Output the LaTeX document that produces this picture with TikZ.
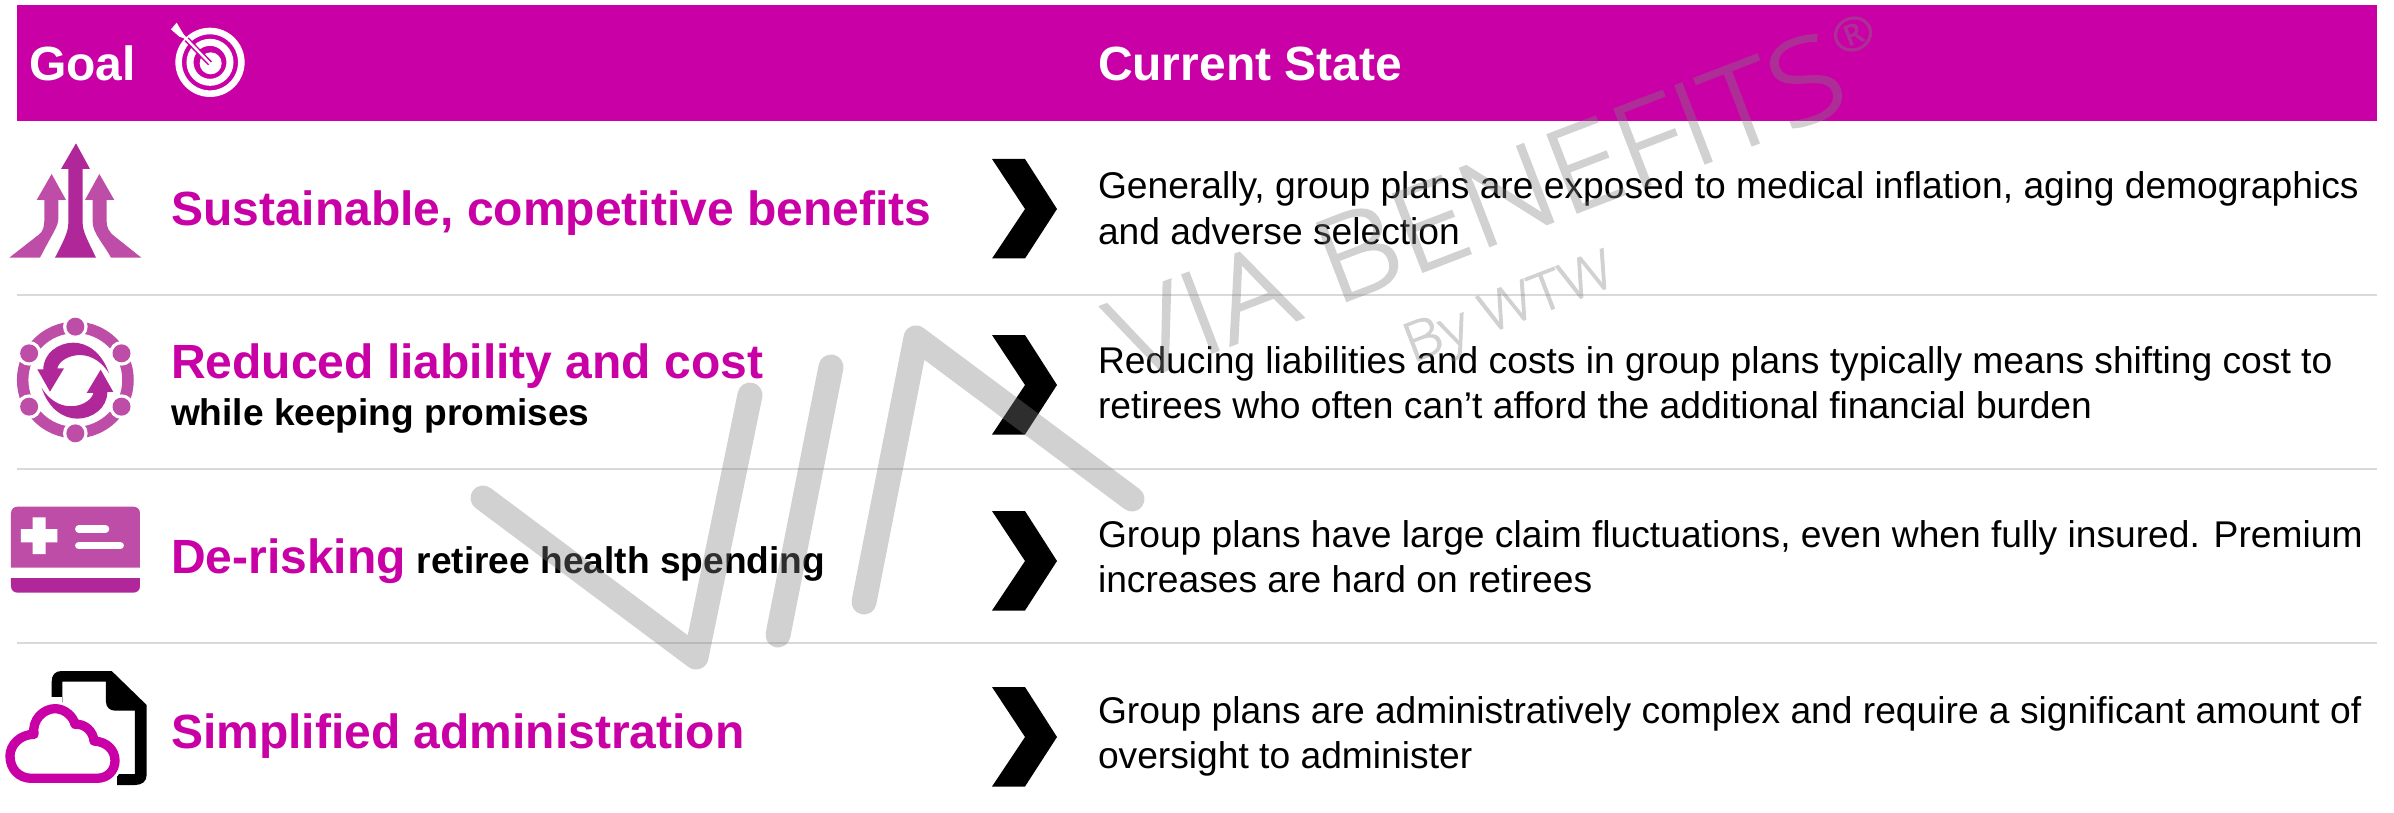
\documentclass[tikz,border=0pt]{standalone}
\usepackage{fontspec}
\setmainfont{Liberation Sans}
\newfontface\wmfont{Open Sans Light}[FakeBold=2,FakeStretch=1.12]
\usetikzlibrary{calc}
\definecolor{mag}{HTML}{C800A5}
\definecolor{icolight}{HTML}{BE4DA8}
\definecolor{icodark}{HTML}{B0279A}
\definecolor{sepgray}{HTML}{D9D9D9}
\newcommand{\fsz}[1]{\fontsize{#1}{#1}\selectfont}
\tikzset{
  lbl/.style={anchor=base west,inner sep=0pt,outer sep=0pt},
  headtxt/.style={lbl,text=white,font=\bfseries\fsz{48}},
  goaltxt/.style={lbl,text=mag,font=\bfseries\fsz{48}},
  subtxt/.style={lbl,text=black,font=\bfseries\fsz{37.1}},
  bodytxt/.style={lbl,text=black,font=\fsz{37.2}},
  sepline/.style={draw=sepgray,line width=2.4pt},
  chev/.style={fill=black,draw=none},
  wmstroke/.style={draw=gray,opacity=.36,line width=25pt,line cap=round,line join=round},
  wmtxt/.style={inner sep=0pt,outer sep=0pt,text=gray,rotate=21,font=\wmfont},
  icoscale/.style={shift={(#1)},scale=1/3},
}
\begin{document}
\begin{tikzpicture}[x=1pt,y=-1pt]
\useasboundingbox (0,0) rectangle (2394,813);
\fill[white] (0,0) rectangle (2394,813);
% header
\fill[mag] (17,5) rectangle (2377,121);
\node[headtxt] (goalhead) at (29,81) {Goal};
\node[headtxt] (statehead) at (1098,81) {Current State};
% separators
\coordinate (s1l) at (17,295); \coordinate (s1r) at (2377,295);
\coordinate (s2l) at (17,469); \coordinate (s2r) at (2377,469);
\coordinate (s3l) at (17,643); \coordinate (s3r) at (2377,643);
\draw[sepline] (s1l) -- (s1r);
\draw[sepline] (s2l) -- (s2r);
\draw[sepline] (s3l) -- (s3r);
% target icon
\begin{scope}[icoscale={0,0}]
  \draw[white,line width=6.6pt] (630,187) circle (94);
  \draw[white,line width=7pt] (630,187) circle (60);
  \fill[white] (632,190) circle (33);
  \draw[mag,line width=5.5pt] (630,190) -- (560,118);
  \draw[white,line width=2.4pt] (630,190) -- (535,92);
  \fill[white] (513,88) -- (530,68) -- (546,95) -- (560,118) -- (538,110) -- cycle;
\end{scope}
% arrows icon
\begin{scope}[icoscale={0,0}]
  \fill[icolight] (155,522) -- (198,600) -- (175,600) -- (175,655) .. controls (175,680) and (160,695) .. (120,773) -- (28,773) -- (115,705) .. controls (130,695) and (133,680) .. (133,655) -- (133,600) -- (110,600) -- cycle;
  \fill[icolight] (298,522) -- (343,600) -- (320,600) -- (320,665) .. controls (320,680) and (325,695) .. (345,710) -- (424,773) -- (333,773) .. controls (310,730) and (278,700) .. (278,665) -- (278,600) -- (255,600) -- cycle;
  \fill[icodark] (228,430) -- (270,507) -- (248,507) -- (248,670) .. controls (248,695) and (265,725) .. (288,773) -- (165,773) .. controls (190,725) and (205,695) .. (205,670) -- (205,507) -- (183,507) -- cycle;
\end{scope}
% cycle icon
\begin{scope}[icoscale={0,290}]
  \draw[icolight,line width=11.5pt] (226,270) circle (158);
  \foreach \a in {90,30,150,-30,-90,210} {
    \fill[white] ($(226,270)+(\a:160)$) circle (37);
    \fill[icolight] ($(226,270)+(\a:160)$) circle (27);
  }
  \foreach \r in {0,180} {
    \begin{scope}[rotate around={\r:(226,272)}]
      \fill[icodark] (327,250) .. controls (305,185) and (260,158) .. (220,158) .. controls (175,158) and (130,190) .. (130,238) -- (112,238) -- (150,305) -- (192,235) -- (172,235) .. controls (178,200) and (270,160) .. (327,250) -- cycle;
    \end{scope}
  }
\end{scope}
% card icon
\begin{scope}[icoscale={0,490}]
  \fill[icolight] (33,233) -- (33,70) .. controls (33,58) and (41,50) .. (53,50) -- (400,50) .. controls (412,50) and (420,58) .. (420,70) -- (420,233) -- cycle;
  \fill[icodark] (33,264) -- (420,264) -- (420,288) .. controls (420,300) and (412,308) .. (400,308) -- (53,308) .. controls (41,308) and (33,300) .. (33,288) -- cycle;
  \fill[white] (98,82) -- (137,82) -- (137,117) -- (172,117) -- (172,157) -- (137,157) -- (137,192) -- (98,192) -- (98,157) -- (63,157) -- (63,117) -- (98,117) -- cycle;
  \draw[white,line width=7.2pt,line cap=round] (236,117) -- (317,117);
  \draw[white,line width=7.2pt,line cap=round] (236,167) -- (361,167);
\end{scope}
% document and cloud icon
\begin{scope}[icoscale={0,490}]
  \fill[black,even odd rule] (155,885) -- (155,575) .. controls (155,555) and (165,543) .. (185,543) -- (335,543) -- (440,645) -- (440,855) .. controls (440,875) and (425,885) .. (405,885) -- cycle
    (187,575) -- (318,575) -- (318,635) .. controls (318,652) and (330,662) .. (345,662) -- (405,662) -- (405,852) -- (187,852) -- cycle;
  \fill[white] (140,620) rectangle (187,900);
  \fill[white] (187,852) rectangle (350,900);
  \def\cloudpath{(95,865) .. controls (55,865) and (30,835) .. (30,798) .. controls (30,765) and (60,733) .. (102,733) .. controls (95,690) and (130,656) .. (165,656) .. controls (195,656) and (220,680) .. (225,703) .. controls (255,700) and (280,725) .. (282,753) .. controls (320,755) and (345,780) .. (345,812) .. controls (345,840) and (325,865) .. (290,865) -- cycle}
  \draw[white,line width=15pt,line join=round] \cloudpath;
  \fill[white] \cloudpath;
  \draw[mag,line width=9.3pt,line join=round] \cloudpath;
\end{scope}
% goals
\node[goaltxt] (g1) at (171,226) {Sustainable, competitive benefits};
\node[goaltxt] (g2) at (171,378) {Reduced liability and cost};
\node[subtxt] (g2b) at (171,425) {while keeping promises};
\node[goaltxt] (g3) at (171,573) {De-risking};
\node[subtxt,anchor=base east] (g3b) at (825,573) {retiree health spending};
\node[goaltxt] (g4) at (171,748) {Simplified administration};
% chevrons
\foreach \n/\y in {1/159,2/335,3/511,4/687} {
  \fill[chev] (992,\y) -- (1025,\y) -- (1057,\y+50) -- (1025,\y+99.5) -- (992,\y+99.5) -- (1025,\y+50) -- cycle;
}
% current state
\node[bodytxt] (c1a) at (1098,199) {Generally, group plans are exposed to medical inflation, aging demographics};
\node[bodytxt] (c1b) at (1098,244) {and adverse selection};
\node[bodytxt] (c2a) at (1098,373) {Reducing liabilities and costs in group plans typically means shifting cost to};
\node[bodytxt] (c2b) at (1098,418) {retirees who often can’t afford the additional financial burden};
\node[bodytxt] (c3a) at (1098,547) {Group plans have large claim fluctuations, even when fully insured. Premium};
\node[bodytxt] (c3b) at (1098,592.5) {increases are hard on retirees};
\node[bodytxt] (c4a) at (1098,723) {Group plans are administratively complex and require a significant amount of};
\node[bodytxt] (c4b) at (1098,768) {oversight to administer};
% watermark
\coordinate (v1) at (483,498); \coordinate (v2) at (696,657); \coordinate (v3) at (750,395);
\coordinate (i1) at (831,367); \coordinate (i2) at (778,635);
\coordinate (a1) at (864,602); \coordinate (a2) at (916,338); \coordinate (a3) at (1132,499);
\draw[wmstroke] (v1) -- (v2) -- (v3);
\draw[wmstroke] (i1) -- (i2);
\draw[wmstroke] (a1) -- (a2) -- (a3);
\begin{scope}[transparency group,opacity=.36]
\node[wmtxt,anchor=base west,font=\wmfont\fsz{116}] (wm1) at (1130,384) {VIA BENEFITS};
\node[wmtxt,anchor=center,font=\wmfont\fsz{46}] (wmr) at (1853,34) {®};
\node[wmtxt,anchor=base west,font=\wmfont\fsz{54}] (wm2) at (1412,363) {By WTW};
\end{scope}
\end{tikzpicture}
\end{document}
